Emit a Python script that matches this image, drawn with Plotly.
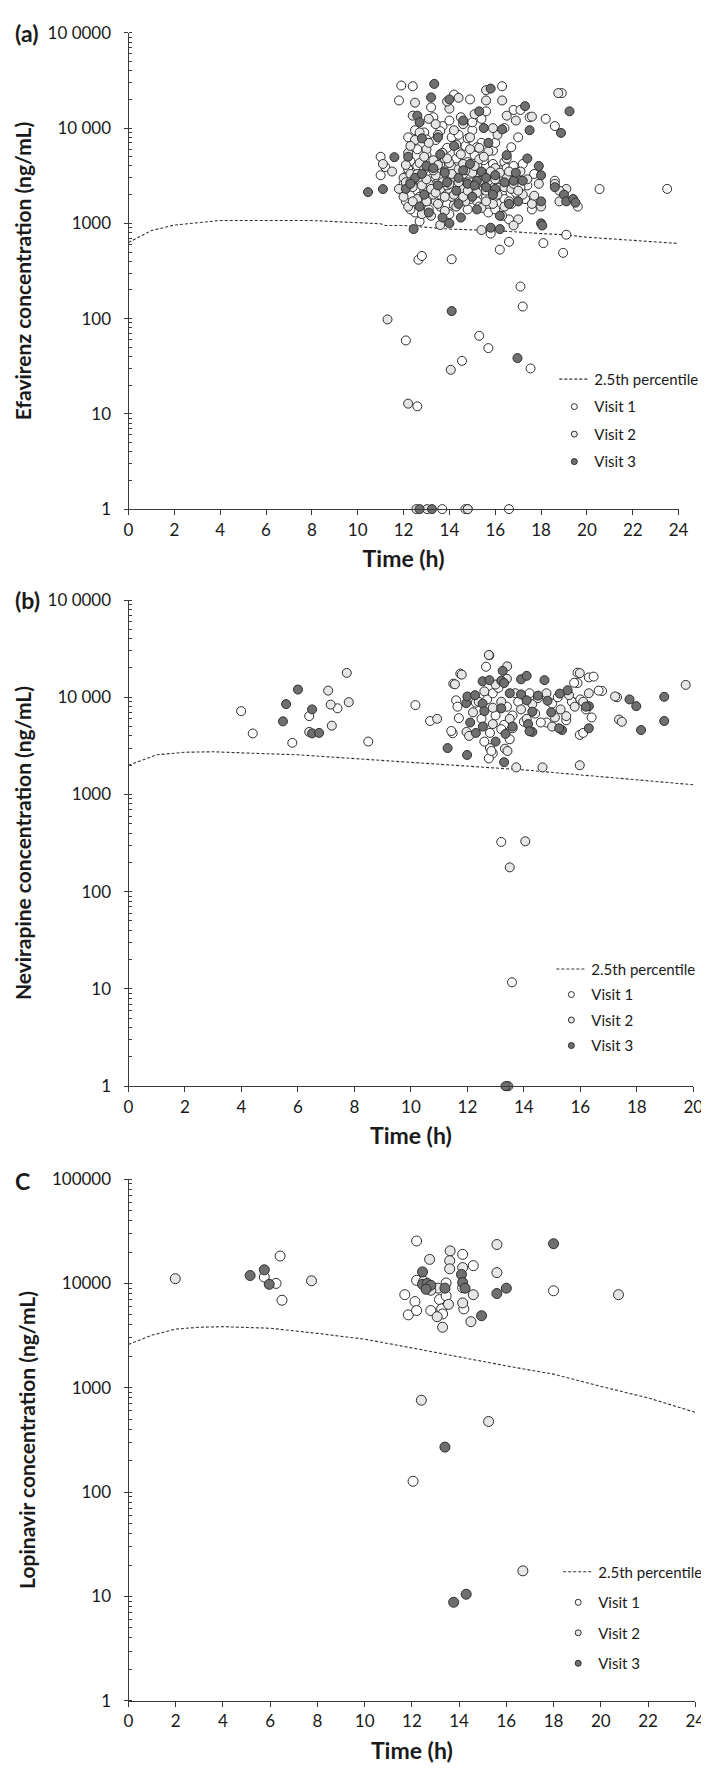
import plotly.graph_objects as go

# ---------------- Panel (a) Efavirenz ----------------
a_pct_t = [0, 1, 2, 4, 8, 10, 11, 11.2, 12, 14, 16, 18, 19, 20, 22, 24]
a_pct_c = [630, 840, 960, 1070, 1070, 1020, 990, 950, 950, 870, 840, 780, 760, 715, 660, 615]

a_v1_t = [11.0, 11.0, 11.2, 11.9, 11.8, 12.0, 12.1, 12.1, 12.3, 12.3, 12.4, 12.5, 12.5, 12.6, 12.6, 12.7, 12.8, 12.8,
          12.9, 13.0, 13.0, 13.1, 13.2, 13.3, 13.3, 13.4, 13.5, 13.6, 13.6, 13.7, 13.8, 13.9, 14.0, 14.0, 14.1, 14.2,
          14.2, 14.3, 14.4, 14.5, 14.5, 14.6, 14.7, 14.8, 14.9, 14.9, 15.0, 15.0, 15.1, 15.2, 15.3, 15.4, 15.5, 15.6,
          15.6, 15.7, 15.8, 15.8, 15.9, 16.0, 16.1, 16.2, 16.3, 16.4, 16.5, 16.6, 16.7, 16.8, 16.9, 17.0, 17.0, 17.1,
          17.2, 17.4, 17.5, 17.6, 17.7, 18.2, 18.6, 18.6, 18.9, 19.6, 20.55, 23.5, 19.1, 18.96, 18.1, 16.6, 16.2, 12.65,
          12.8, 14.1, 17.1, 17.2, 12.1, 15.3, 15.7, 14.55, 17.54, 12.6, 13.69, 14.7, 14.8, 16.6,
          12.0, 12.2, 12.3, 12.5, 12.6, 12.7, 12.9, 13.0, 13.1, 13.2, 13.3, 13.4, 13.5, 13.6, 13.7, 13.8, 13.9, 14.0,
          14.1, 14.2, 14.3, 14.4, 14.5, 14.6, 14.7, 14.8, 14.9, 15.0, 15.1, 15.2, 15.3, 15.4, 15.5, 15.6, 15.7, 15.8,
          15.9, 16.0, 16.1, 16.2, 16.3, 16.4, 16.5, 16.6, 16.7, 16.8, 16.9, 17.0, 17.1, 17.3, 13.0, 13.6, 14.4, 15.0,
          15.4, 14.0, 13.2, 12.2, 14.8, 16.0, 16.4]
a_v1_c = [3200, 5000, 3900, 28000, 19500, 2600, 1700, 3100, 2000, 4500, 27500, 1300, 9500, 2200, 6000, 1050, 3400, 1600,
          9000, 2400, 5200, 1400, 3000, 1900, 13000, 7500, 2700, 1500, 4200, 10500, 2100, 6200, 3300, 1250, 8000, 22500,
          2600, 4800, 1800, 13000, 3100, 2200, 6500, 1400, 20000, 3700, 2500, 9500, 5200, 1700, 3000, 7000, 2300, 15000,
          4000, 1300, 2800, 780, 5800, 2100, 3500, 1600, 27500, 4400, 2600, 1100, 6300, 15500, 3000, 8000, 1900, 15500,
          4200, 2500, 13000, 1400, 3300, 12500, 10500, 2800, 23300, 1500, 2290, 2300, 760, 490, 620, 640, 530, 415,
          455, 420, 217, 134, 59, 66, 49, 36, 30, 12, 1, 1, 1, 1,
          2200, 3700, 1400, 2900, 4000, 1900, 2700, 3500, 1800, 4500, 2500, 1700, 3600, 2000, 3000, 4800, 1600, 2300,
          3900, 1550, 2900, 5600, 2000, 3300, 2500, 4400, 1800, 3800, 2300, 6300, 1500, 2700, 4600, 1900, 3300, 2300,
          4200, 1400, 2400, 3600, 2000, 1800, 3800, 2700, 1600, 4000, 2100, 3400, 2400, 1800, 7600, 9300, 8500, 11500,
          12500, 12000, 16500, 8000, 7800, 7000, 10000]

a_v2_t = [11.3, 14.06, 12.2, 12.56, 13.03, 14.8, 11.1, 11.5, 11.8, 12.0, 12.0, 12.1, 12.2, 12.2, 12.3, 12.4, 12.4, 12.5,
          12.5, 12.6, 12.7, 12.7, 12.8, 12.9, 12.9, 13.0, 13.0, 13.1, 13.1, 13.2, 13.3, 13.3, 13.4, 13.5, 13.5, 13.6,
          13.6, 13.7, 13.8, 13.8, 13.9, 14.0, 14.0, 14.1, 14.2, 14.3, 14.3, 14.4, 14.5, 14.6, 14.6, 14.7, 14.8, 14.9,
          15.0, 15.0, 15.1, 15.2, 15.3, 15.4, 15.4, 15.5, 15.6, 15.6, 15.7, 15.8, 15.9, 16.0, 16.1, 16.1, 16.2, 16.3,
          16.3, 16.4, 16.5, 16.5, 16.6, 16.7, 16.9, 17.0, 17.1, 17.2, 17.4, 17.6, 17.7, 17.9, 18.0, 18.6, 18.8, 18.75,
          19.1, 18.8, 16.8, 15.6, 14.4, 13.9, 17.6,
          12.1, 12.3, 12.4, 12.6, 12.8, 12.9, 13.0, 13.2, 13.3, 13.4, 13.5, 13.7, 13.8, 13.9, 14.0, 14.1, 14.2, 14.4,
          14.5, 14.6, 14.7, 14.8, 15.0, 15.1, 15.2, 15.3, 15.5, 15.6, 15.7, 15.8, 15.9, 16.0, 16.2, 16.4, 16.6, 16.8,
          17.0, 12.7, 13.4, 14.2, 13.1, 14.9, 15.9, 16.5, 15.3, 12.3]
a_v2_c = [98, 29, 12.8, 1, 1, 1, 4200, 3500, 2300, 3000, 1900, 2700, 1500, 5500, 3300, 2400, 13500, 18500,
          7500, 1800, 2900, 4300, 1250, 2200, 3700, 1700, 6000, 2600, 12500, 1200, 2000, 4600, 3200, 1600, 8500, 2300,
          960, 5500, 3500, 1350, 2500, 16000, 4300, 1900, 2900, 6700, 1500, 3700, 2300, 11000, 4200, 1700, 2700, 6000,
          1950, 3400, 14000, 2600, 4700, 1450, 850, 3100, 2200, 19500, 5700, 2500, 1600, 3800, 2000, 8500, 2900, 1200,
          19500, 2400, 4800, 3000, 1700, 2300, 12000, 1100, 3500, 2000, 2900, 1600, 1950, 2600, 1500, 2600, 1700, 23300,
          2300, 2200, 950, 25000, 20800, 19000, 13200,
          4100, 2700, 1700, 3300, 2500, 5000, 2900, 2300, 3600, 2100, 4100, 2700, 1900, 4800, 2600, 3300, 2000, 2700,
          5300, 1900, 3600, 2200, 2700, 4000, 2100, 2800, 5000, 1700, 2800, 3500, 2100, 2900, 3400, 1500, 3500, 2600,
          2200, 9000, 11000, 9500, 7000, 8000, 10000, 13500, 6200, 6500]

a_v3_t = [10.45, 11.1, 11.6, 12.1, 12.2, 12.44, 12.5, 12.6, 12.7, 12.8, 12.9, 13.0, 13.1, 13.2, 13.34, 13.5, 13.6, 13.7,
          13.8, 14.0, 14.0, 14.2, 14.3, 14.4, 14.5, 14.6, 14.8, 14.9, 15.0, 15.2, 15.3, 15.4, 15.5, 15.6, 15.8, 15.8,
          16.0, 16.0, 16.2, 16.2, 16.3, 16.5, 16.8, 17.0, 17.2, 17.3, 17.4, 17.5, 17.9, 18.0, 18.0, 18.0, 18.05, 18.6,
          18.87, 19.0, 19.1, 19.24, 19.4, 19.5, 14.1, 16.97, 12.7, 13.24,
          12.3, 12.8, 13.3, 13.9, 14.6, 15.1, 15.6, 15.9, 16.4, 16.6, 13.5, 14.4, 12.7, 15.2, 16.9, 15.7]
a_v3_c = [2130, 2290, 4950, 2300, 5000, 870, 3000, 13500, 11500, 7800, 2000, 4000, 1300, 21000, 29100, 2500, 5300, 1150,
          3400, 20000, 1000, 6500, 2200, 3000, 1150, 12000, 2600, 4200, 1900, 2800, 15000, 3500, 10000, 2400, 26000, 900,
          3200, 2300, 870, 1200, 9700, 5200, 2800, 1700, 2800, 17000, 4800, 9500, 4000, 3200, 1700, 1000, 950, 2400,
          8900, 2000, 1700, 15000, 1800, 1650, 120, 38.5, 1, 1,
          2600, 3300, 3800, 2700, 3600, 2500, 3000, 2000, 2700, 1600, 8000, 1600, 1500, 1400, 3400, 7000]

# ---------------- Panel (b) Nevirapine ----------------
b_pct_t = [0, 1, 2, 3, 4, 6, 8, 10, 12, 14, 16, 18, 20]
b_pct_c = [2000, 2560, 2720, 2750, 2680, 2560, 2340, 2140, 1960, 1790, 1590, 1420, 1260]

b_v1_t = [3.99, 4.4, 5.8, 6.4, 7.4, 8.49, 10.16, 10.68, 11.48, 11.6, 11.7, 12.78, 12.66, 11.75, 13.2, 13.58, 13.45,
          12.8, 12.9, 15.98, 17.3, 16.3, 15.9, 16.77, 14.8, 15.74, 11.43, 11.65, 12.76, 12.85, 12.6, 15.78, 15.9,
          16.47, 16.65, 16.1,
          12.3, 12.5, 12.7, 12.9, 13.0, 13.1, 13.3, 13.4, 13.6, 13.8, 14.0, 14.2, 14.4, 14.6, 15.0, 15.2, 15.5, 15.7,
          16.0, 16.2, 16.4, 13.2, 12.8, 13.5]
b_v1_c = [7200, 4240, 3400, 6400, 7700, 3500, 8300, 5700, 4270, 9300, 6100, 27000, 20600, 17500, 325, 11.7, 1,
          3000, 2650, 4100, 10000, 16000, 14000, 11600, 5500, 8900, 4500, 8000, 2350, 2800, 3500, 14100, 17900,
          16300, 11700, 4300,
          8800, 6000, 9500, 11000, 6500, 12500, 5200, 8000, 6500, 9000, 5600, 11000, 6800, 5500, 8600, 10000, 5800, 9000,
          9500, 7500, 6200, 4700, 4300, 3700]

b_v2_t = [12.76, 13.41, 11.5, 11.97, 13.33, 13.73, 14.66, 15.98, 17.23, 17.37, 19.73, 7.07, 7.16, 7.2, 7.73, 7.8,
          6.4, 10.93, 12.06, 11.8, 11.56, 13.42, 15.0, 15.5, 15.98, 17.47, 13.5, 14.05, 13.4,
          12.2, 12.4, 12.6, 12.9, 13.0, 13.2, 13.4, 13.5, 13.7, 13.9, 14.1, 14.3, 14.5, 14.8, 15.1, 15.3, 15.6, 15.8,
          16.1, 16.3, 12.9, 13.6]
b_v2_c = [27200, 20800, 13800, 4400, 2960, 1900, 1900, 2000, 10200, 5900, 13400, 11700, 8400, 5100, 17800, 8900,
          4400, 6000, 4000, 17100, 13600, 2800, 5000, 6400, 17700, 5600, 178, 330, 1,
          7000, 9000, 11500, 7800, 13500, 9000, 15500, 6000, 11000, 7500, 6000, 8500, 9800, 11000, 6200, 7500, 10500, 8000,
          9000, 11000, 5300, 4800]

b_v3_t = [5.47, 5.58, 6.0, 6.5, 6.5, 6.75, 11.3, 11.99, 11.96, 12.0, 12.27, 12.54, 12.54, 12.1, 12.55, 12.78, 12.6,
          13.2, 13.25, 13.3, 13.5, 13.2, 13.35, 13.0, 13.3, 13.6, 13.9, 14.1, 13.9, 14.1, 14.15, 14.3, 14.3, 14.5,
          14.73, 14.84, 14.97, 15.27, 15.35, 15.55, 16.3, 16.3, 17.74, 17.98, 18.15, 18.97, 18.97, 13.35,
          12.3, 14.2, 16.2, 15.25]
b_v3_c = [5650, 8500, 12000, 7500, 4250, 4300, 3000, 2550, 8700, 10200, 10500, 14600, 8600, 5500, 5000, 15000, 7200,
          14800, 18700, 14000, 11000, 7700, 4200, 3500, 2150, 5000, 15300, 16600, 10700, 9300, 5300, 7100, 4400, 10400,
          15000, 9200, 7000, 10900, 4600, 11800, 8100, 4800, 9500, 8100, 4600, 10100, 5700, 1,
          4300, 4470, 8000, 4800]

# ---------------- Panel (C) Lopinavir ----------------
c_pct_t = [0, 1, 2, 3, 4, 6, 8, 10, 12, 14, 16, 18, 20, 22, 24]
c_pct_c = [2600, 3200, 3650, 3800, 3850, 3720, 3320, 2920, 2410, 1960, 1620, 1350, 1030, 800, 582]

c_v1_t = [6.42, 5.75, 6.25, 6.5, 12.2, 14.15, 14.6, 18.0, 11.7, 11.85, 12.13, 12.2, 12.2, 12.8, 13.17, 13.26, 13.3,
          13.45, 13.45, 14.15, 14.2, 12.05]
c_v1_c = [18300, 11500, 10000, 6900, 25500, 19000, 14800, 8500, 7800, 5000, 6700, 5500, 10700, 5500, 7000, 5700, 5100,
          10100, 7600, 9100, 5700, 127]

c_v2_t = [1.98, 7.75, 12.75, 13.62, 13.6, 13.6, 14.15, 15.6, 15.6, 20.75, 13.07, 13.1, 13.3, 13.55, 14.15, 14.5,
          14.6, 12.5, 12.8, 12.4, 15.25, 16.7]
c_v2_c = [11100, 10600, 17000, 20500, 16500, 13800, 14200, 23600, 12700, 7800, 4800, 9000, 3800, 6300, 6500, 4300,
          7800, 10500, 8600, 760, 475, 17.6]

c_v3_t = [5.15, 5.75, 5.96, 12.45, 12.45, 12.65, 12.8, 12.6, 13.4, 14.1, 14.15, 14.25, 14.95, 15.6, 16.0, 18.0,
          13.4, 13.77, 14.3]
c_v3_c = [11900, 13500, 9800, 12900, 9800, 10000, 9600, 8800, 9000, 12200, 10200, 9000, 4900, 8000, 9000, 24000,
          270, 8.8, 10.5]

# ---------------- Styling ----------------
FONT = "Lato"
AX = "#3a3a3a"
TXT = "#1a1a1a"
V_FILL = ["#ffffff", "#e6e6e6", "#6f6f6f"]
V_NAMES = ["Visit 1", "Visit 2", "Visit 3"]
W, H = 709, 1770


def py(px):
    return 1 - px / H


panels = [
    dict(pct=(a_pct_t, a_pct_c), v=[(a_v1_t, a_v1_c), (a_v2_t, a_v2_c), (a_v3_t, a_v3_c)],
         xr=24, xd=[118 / W, 680 / W], yd=[py(496), py(14)], msize=9,
         ytitle="Efavirenz concentration (ng/mL)", alias={"10,000": "10 000", "100,000": "10 0000"},
         leg=(553 / W, py(348)), gap=5, label="(a)", label_y=py(14)),
    dict(pct=(b_pct_t, b_pct_c), v=[(b_v1_t, b_v1_c), (b_v2_t, b_v2_c), (b_v3_t, b_v3_c)],
         xr=20, xd=[118 / W, 695 / W], yd=[py(1080), py(588)], msize=9,
         ytitle="Nevirapine concentration (ng/mL)", alias={"10,000": "10 000", "100,000": "10 0000"},
         leg=(550 / W, py(945)), gap=3, label="(b)", label_y=py(588)),
    dict(pct=(c_pct_t, c_pct_c), v=[(c_v1_t, c_v1_c), (c_v2_t, c_v2_c), (c_v3_t, c_v3_c)],
         xr=24, xd=[118 / W, 697 / W], yd=[py(1702), py(1174)], msize=10,
         ytitle="Lopinavir concentration (ng/mL)", alias={"10,000": "10000", "100,000": "100000"},
         leg=(557 / W, py(1555)), gap=8, label="C", label_y=py(1176)),
]

fig = go.Figure()
layout = dict(
    width=W, height=H, margin=dict(l=0, r=0, t=0, b=0),
    paper_bgcolor="white", plot_bgcolor="white",
    font=dict(family=FONT, color=TXT, size=16),
    annotations=[],
)

for i, p in enumerate(panels):
    n = "" if i == 0 else str(i + 1)
    xa, ya = "x" + n, "y" + n
    lg = "legend" + n
    t, c = p["pct"]
    fig.add_trace(go.Scatter(x=t, y=c, mode="lines", xaxis=xa, yaxis=ya, name="2.5th percentile",
                             legend=lg, legendgroup=f"p{i}",
                             line=dict(color="#333333", width=1.1, dash="3px,2px"),
                             hoverinfo="skip"))
    for k, (vt, vc) in enumerate(p["v"]):
        fig.add_trace(go.Scatter(x=vt, y=vc, mode="markers", xaxis=xa, yaxis=ya, name=V_NAMES[k],
                                 showlegend=False, cliponaxis=False,
                                 marker=dict(size=p["msize"], color=V_FILL[k],
                                             line=dict(color="#2e2e2e", width=1))))
    for k in range(3):
        fig.add_trace(go.Scatter(x=[None], y=[None], mode="markers", xaxis=xa, yaxis=ya, name=V_NAMES[k],
                                 legend=lg, legendgroup=f"v{i}{k}",
                                 marker=dict(size=6, color=V_FILL[k], line=dict(color="#2e2e2e", width=1))))
    layout["xaxis" + n] = dict(
        domain=p["xd"], anchor=ya, range=[0, p["xr"]], dtick=2, tick0=0,
        showline=True, linecolor=AX, linewidth=1, showgrid=False, zeroline=False,
        ticks="outside", ticklen=5, tickcolor=AX, tickfont=dict(size=17, family=FONT),
        title=dict(text="<b>Time (h)</b>", font=dict(size=23, family=FONT), standoff=12),
    )
    layout["yaxis" + n] = dict(
        domain=p["yd"], anchor=xa, type="log", range=[0, 5], dtick=1,
        exponentformat="none", labelalias=p["alias"],
        showline=True, linecolor=AX, linewidth=1, showgrid=False, zeroline=False,
        ticks="outside", ticklen=4, tickcolor=AX, tickfont=dict(size=17, family=FONT),
        ticklabelstandoff=9,
        minor=dict(ticks="inside", ticklen=3, tickcolor=AX, dtick="D1", showgrid=False),
        title=dict(text="<b>" + p["ytitle"] + "</b>", font=dict(size=21, family=FONT), standoff=10),
    )
    layout[lg] = dict(x=p["leg"][0], y=p["leg"][1], xanchor="left", yanchor="top",
                      bgcolor="rgba(0,0,0,0)", font=dict(size=15, family=FONT, color=TXT),
                      tracegroupgap=p["gap"], itemwidth=30)
    layout["annotations"].append(dict(text="<b>" + p["label"] + "</b>", x=0, y=p["label_y"],
                                      xref="paper", yref="paper", xanchor="left", yanchor="middle",
                                      showarrow=False, font=dict(size=23, family=FONT, color=TXT)))

fig.update_layout(**layout)
fig.write_html("out.html")
